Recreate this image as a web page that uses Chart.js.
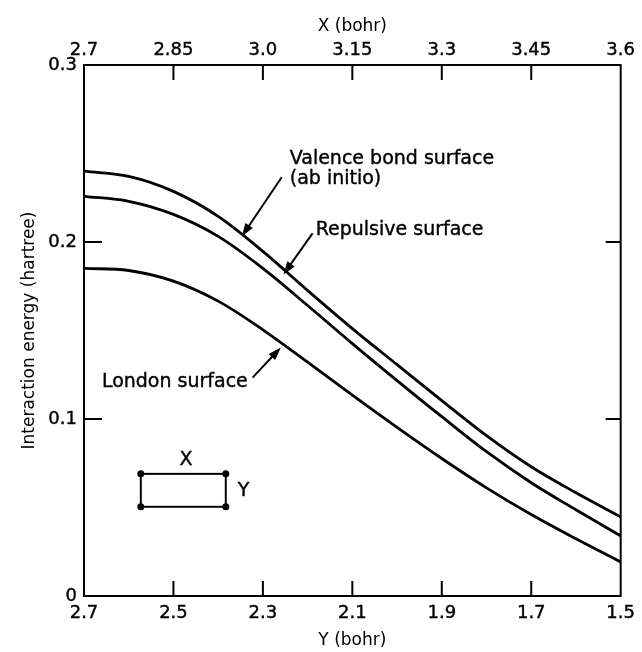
<!DOCTYPE html>
<html>
<head>
<meta charset="utf-8">
<script src="https://cdn.jsdelivr.net/npm/chart.js@4.4.0/dist/chart.umd.min.js"></script>
<style>
  html, body { margin: 0; padding: 0; background: #fff; }
  #wrap { width: 642px; height: 652px; }
</style>
</head>
<body>
<div id="wrap"><canvas id="c" width="642" height="652"></canvas></div>
<script>
// ---- data ----
const Y_BOHR = [2.7, 2.6, 2.5, 2.4, 2.3, 2.2, 2.1, 2.0, 1.9, 1.8, 1.7, 1.6, 1.5];
const VALENCE = [0.240, 0.2371, 0.2286, 0.2145, 0.1947, 0.1726, 0.1511, 0.1307, 0.1104, 0.0906, 0.0730, 0.0583, 0.0447];
const REPULSIVE = [0.2258, 0.2230, 0.2156, 0.2032, 0.1851, 0.1641, 0.1426, 0.1217, 0.1013, 0.0815, 0.0640, 0.0487, 0.0340];
const LONDON = [0.1851, 0.1839, 0.1779, 0.1666, 0.1504, 0.1321, 0.1135, 0.0953, 0.0777, 0.0611, 0.0460, 0.0323, 0.0192];

const BOTTOM_TICKS = [2.7, 2.5, 2.3, 2.1, 1.9, 1.7, 1.5];
const BOTTOM_LABELS = ['2.7', '2.5', '2.3', '2.1', '1.9', '1.7', '1.5'];
const TOP_TICKS = [2.7, 2.85, 3.0, 3.15, 3.3, 3.45, 3.6];
const TOP_LABELS = ['2.7', '2.85', '3.0', '3.15', '3.3', '3.45', '3.6'];
const E_TICKS = [0, 0.1, 0.2, 0.3];
const E_LABELS = ['0', '0.1', '0.2', '0.3'];

const NOTES = [
  { text: 'Valence bond surface', x: 2.240, y: 0.247 },
  { text: '(ab initio)', x: 2.240, y: 0.2355 },
  { text: 'Repulsive surface', x: 2.182, y: 0.207 },
  { text: 'London surface', x: 2.66, y: 0.121 }
];
const ARROWS = [
  { from: [2.258, 0.2366], to: [2.347, 0.2032] },
  { from: [2.189, 0.2049], to: [2.254, 0.1817] },
  { from: [2.323, 0.1234], to: [2.260, 0.1404] }
];
const INSET = { x0: 2.573, x1: 2.383, y0: 0.069, y1: 0.0504, xLabel: [2.472, 0.077], yLabel: [2.343, 0.0594] };

const pts = arr => Y_BOHR.map((v, i) => ({ x: v, y: arr[i] }));
const FONT = "'DejaVu Sans', sans-serif";

const decor = {
  id: 'decor',
  afterDraw(chart) {
    const ctx = chart.ctx;
    const a = chart.chartArea;
    const sx = chart.scales.x, sy = chart.scales.y, st = chart.scales.xTop;
    ctx.save();
    ctx.strokeStyle = '#000';
    ctx.fillStyle = '#000';
    // right frame
    ctx.lineWidth = 2;
    ctx.beginPath();
    ctx.moveTo(a.right, a.top - 1);
    ctx.lineTo(a.right, a.bottom + 1);
    ctx.stroke();
    // inward ticks
    ctx.beginPath();
    BOTTOM_TICKS.slice(1, -1).forEach(v => {
      const px = sx.getPixelForValue(v);
      ctx.moveTo(px, a.bottom); ctx.lineTo(px, a.bottom - 15);
    });
    TOP_TICKS.slice(1, -1).forEach(v => {
      const px = st.getPixelForValue(v);
      ctx.moveTo(px, a.top); ctx.lineTo(px, a.top + 15);
    });
    E_TICKS.slice(1, -1).forEach(v => {
      const py = sy.getPixelForValue(v);
      ctx.moveTo(a.left, py); ctx.lineTo(a.left + 18, py);
      ctx.moveTo(a.right, py); ctx.lineTo(a.right - 15, py);
    });
    ctx.stroke();

    // notes
    ctx.font = '19px ' + FONT;
    ctx.textBaseline = 'middle';
    ctx.textAlign = 'left';
    ctx.lineWidth = 0.4;
    NOTES.forEach(n => {
      const px = sx.getPixelForValue(n.x), py = sy.getPixelForValue(n.y);
      ctx.fillText(n.text, px, py);
      ctx.strokeText(n.text, px, py);
    });
    // arrows
    ARROWS.forEach(ar => {
      const x0 = sx.getPixelForValue(ar.from[0]), y0 = sy.getPixelForValue(ar.from[1]);
      const x1 = sx.getPixelForValue(ar.to[0]), y1 = sy.getPixelForValue(ar.to[1]);
      const ang = Math.atan2(y1 - y0, x1 - x0);
      const L = 13, W = 4.5;
      ctx.lineWidth = 2;
      ctx.beginPath();
      ctx.moveTo(x0, y0);
      ctx.lineTo(x1 - Math.cos(ang) * (L - 2), y1 - Math.sin(ang) * (L - 2));
      ctx.stroke();
      ctx.beginPath();
      ctx.moveTo(x1, y1);
      ctx.lineTo(x1 - Math.cos(ang) * L - Math.sin(ang) * W, y1 - Math.sin(ang) * L + Math.cos(ang) * W);
      ctx.lineTo(x1 - Math.cos(ang) * L + Math.sin(ang) * W, y1 - Math.sin(ang) * L - Math.cos(ang) * W);
      ctx.closePath();
      ctx.fill();
    });
    // inset rectangle
    const rx0 = sx.getPixelForValue(INSET.x0), rx1 = sx.getPixelForValue(INSET.x1);
    const ry0 = sy.getPixelForValue(INSET.y0), ry1 = sy.getPixelForValue(INSET.y1);
    ctx.lineWidth = 2;
    ctx.strokeRect(rx0, ry0, rx1 - rx0, ry1 - ry0);
    [[rx0, ry0], [rx1, ry0], [rx0, ry1], [rx1, ry1]].forEach(p => {
      ctx.beginPath(); ctx.arc(p[0], p[1], 3.5, 0, Math.PI * 2); ctx.fill();
    });
    ctx.textAlign = 'center';
    ctx.font = '19px ' + FONT;
    ctx.lineWidth = 0.4;
    [['X', INSET.xLabel], ['Y', INSET.yLabel]].forEach(([t, p]) => {
      const px = sx.getPixelForValue(p[0]), py = sy.getPixelForValue(p[1]);
      ctx.fillText(t, px, py); ctx.strokeText(t, px, py);
    });
    ctx.restore();
  }
};

const lineDs = (label, arr) => ({
  label, data: pts(arr), borderColor: '#000', borderWidth: 2.8,
  pointRadius: 0, fill: false, tension: 0.35, cubicInterpolationMode: 'default'
});

const tickFont = { family: FONT, size: 18 };
const titleFont = { family: FONT, size: 17 };

new Chart(document.getElementById('c'), {
  type: 'line',
  data: {
    datasets: [
      lineDs('Valence bond surface (ab initio)', VALENCE),
      lineDs('Repulsive surface', REPULSIVE),
      lineDs('London surface', LONDON)
    ]
  },
  options: {
    responsive: false,
    animation: false,
    devicePixelRatio: 1,
    layout: { padding: { left: 0, right: 20, top: 0, bottom: 0 } },
    plugins: { legend: { display: false }, tooltip: { enabled: false } },
    scales: {
      x: {
        type: 'linear', position: 'bottom', min: 1.5, max: 2.7, reverse: true,
        afterBuildTicks: s => { s.ticks = BOTTOM_TICKS.map(v => ({ value: v })); },
        afterFit: s => { s.height = 56; },
        ticks: {
          autoSkip: false, maxRotation: 0, color: '#000', font: tickFont, padding: 7,
          textStrokeColor: '#000', textStrokeWidth: 0.4,
          callback: v => BOTTOM_LABELS[BOTTOM_TICKS.indexOf(v)]
        },
        grid: { display: false, drawTicks: false },
        border: { display: true, color: '#000', width: 2 },
        title: { display: true, text: 'Y (bohr)', color: '#000', font: titleFont, padding: { top: 0, bottom: 1 } }
      },
      xTop: {
        type: 'linear', position: 'top', min: 2.7, max: 3.6,
        afterBuildTicks: s => { s.ticks = TOP_TICKS.map(v => ({ value: v })); },
        afterFit: s => { s.height = 65; },
        ticks: {
          autoSkip: false, maxRotation: 0, color: '#000', font: tickFont, padding: 4,
          textStrokeColor: '#000', textStrokeWidth: 0.4,
          callback: v => TOP_LABELS[TOP_TICKS.findIndex(t => Math.abs(t - v) < 1e-9)]
        },
        grid: { display: false, drawTicks: false },
        border: { display: true, color: '#000', width: 2 },
        title: { display: true, text: 'X (bohr)', color: '#000', font: titleFont, padding: { top: 16, bottom: 0 } }
      },
      y: {
        type: 'linear', position: 'left', min: 0, max: 0.3,
        afterBuildTicks: s => { s.ticks = E_TICKS.map(v => ({ value: v })); },
        afterFit: s => { s.width = 84; },
        ticks: {
          color: '#000', font: tickFont, padding: 7,
          textStrokeColor: '#000', textStrokeWidth: 0.4,
          callback: v => E_LABELS[E_TICKS.findIndex(t => Math.abs(t - v) < 1e-9)]
        },
        grid: { display: false, drawTicks: false },
        border: { display: true, color: '#000', width: 2 },
        title: { display: true, text: 'Interaction energy (hartree)', color: '#000', font: titleFont, padding: { top: 19, bottom: 0 } }
      }
    }
  },
  plugins: [decor]
});
</script>
</body>
</html>
